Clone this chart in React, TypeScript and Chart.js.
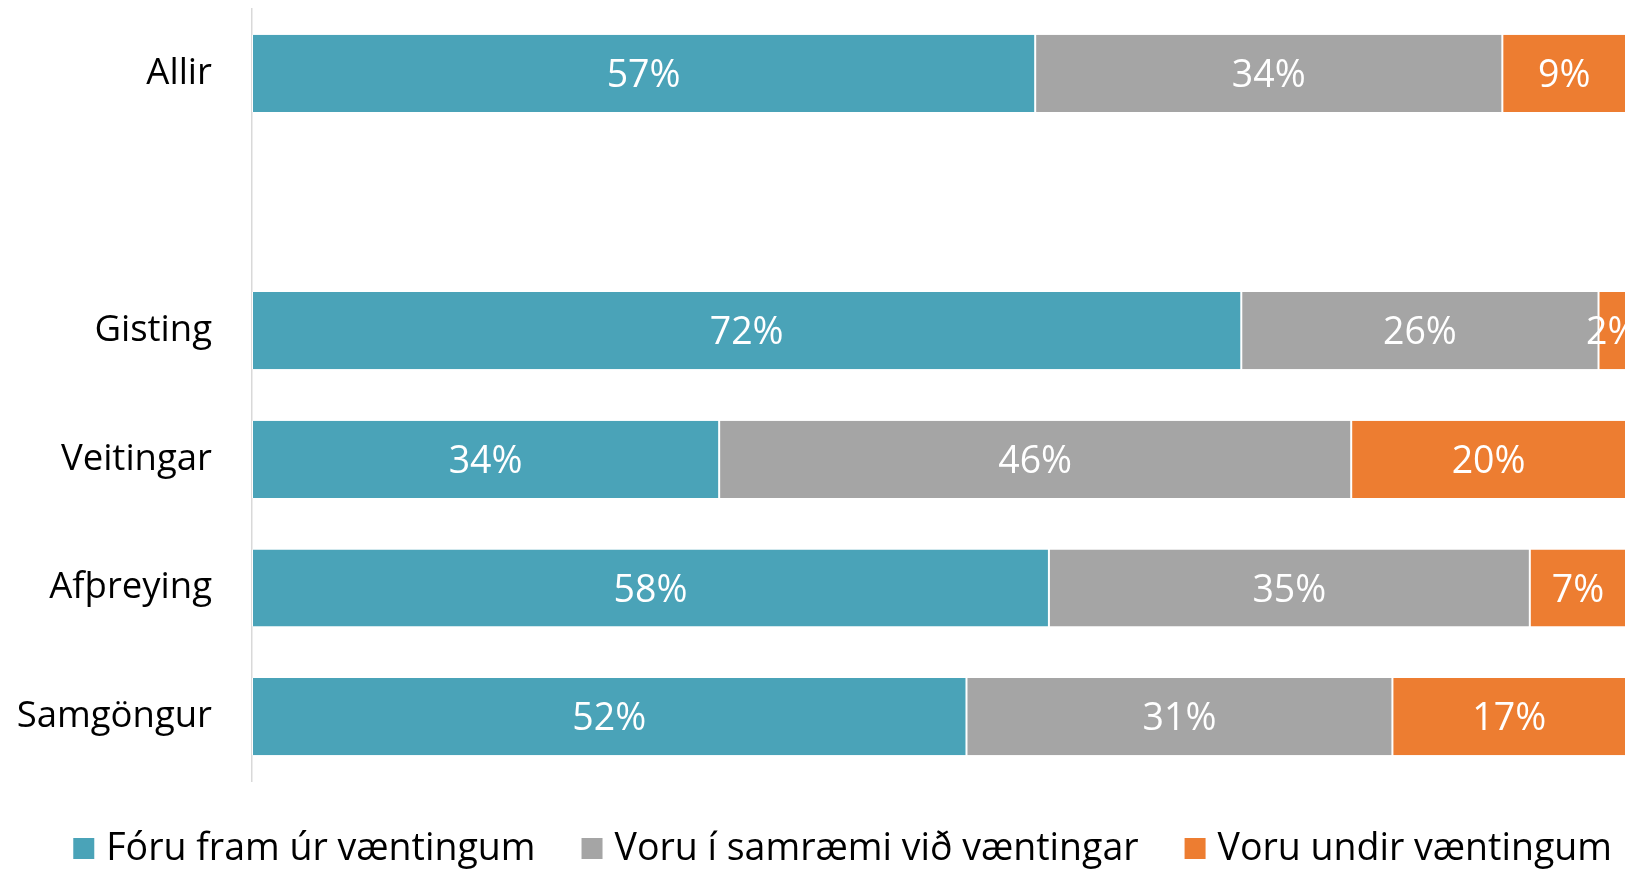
import React, { useEffect, useRef } from "react";
import { Chart, registerables } from "chart.js";

Chart.register(...registerables);

const categories = ["Allir", "", "Gisting", "Veitingar", "Afþreying", "Samgöngur"];
const seriesNames = ["Fóru fram úr væntingum", "Voru í samræmi við væntingar", "Voru undir væntingum"];
const foruFram = [57, null, 72, 34, 58, 52];
const iSamraemi = [34, null, 26, 46, 35, 31];
const undir = [9, null, 2, 20, 7, 17];
const colors = ["#4AA3B8", "#A5A5A5", "#ED7D31"];

const FONT = "'Open Sans', 'DejaVu Sans', sans-serif";

const labelPlugin = {
  id: "barLabels",
  afterDatasetsDraw(chart: any) {
    const ctx = chart.ctx;
    ctx.save();
    ctx.fillStyle = "#FFFFFF";
    ctx.font = `37.5px ${FONT}`;
    ctx.textAlign = "center";
    ctx.textBaseline = "middle";
    chart.data.datasets.forEach((ds: any, di: number) => {
      const meta = chart.getDatasetMeta(di);
      meta.data.forEach((el: any, i: number) => {
        const v = ds.data[i];
        if (v === null || v === undefined) return;
        const p = el.getCenterPoint();
        ctx.fillText(`${v}%`, p.x, p.y + 3);
      });
    });
    ctx.restore();
  },
};

// Bottom legend: square swatch, small gap, label; row right-aligned like the source.
const legendPlugin = {
  id: "bottomLegend",
  afterDraw(chart: any) {
    const ctx = chart.ctx;
    const box = 21;
    const boxGap = 12;
    const itemGap = 46;
    const rightMargin = 14;
    ctx.save();
    ctx.font = `37.5px ${FONT}`;
    ctx.textBaseline = "middle";
    ctx.textAlign = "left";
    const items = chart.data.datasets.map((ds: any) => ({
      text: ds.label,
      color: ds.backgroundColor,
      w: ctx.measureText(ds.label).width,
    }));
    const total =
      items.reduce((s: number, it: any) => s + box + boxGap + it.w, 0) + itemGap * (items.length - 1);
    let x = chart.width - rightMargin - total;
    const cy = chart.chartArea.bottom + 67.5;
    items.forEach((it: any) => {
      ctx.fillStyle = it.color;
      ctx.fillRect(x, cy - box / 2, box, box);
      x += box + boxGap;
      ctx.fillStyle = "#000000";
      ctx.fillText(it.text, x, cy + 1);
      x += it.w + itemGap;
    });
    ctx.restore();
  },
};

export default function App() {
  const ref = useRef<HTMLCanvasElement>(null);
  useEffect(() => {
    const canvas = ref.current!;
    const data = [foruFram, iSamraemi, undir];
    const chart = new Chart(canvas, {
      type: "bar",
      data: {
        labels: categories,
        datasets: seriesNames.map((name, i) => ({
          label: name,
          data: data[i] as any,
          backgroundColor: colors[i],
          borderColor: "#FFFFFF",
          borderWidth: { left: 1, right: 1, top: 0, bottom: 0 },
          borderSkipped: false,
          categoryPercentage: 1,
          barPercentage: 0.6,
        })),
      },
      options: {
        indexAxis: "y",
        animation: false,
        responsive: false,
        maintainAspectRatio: false,
        layout: { padding: { top: 9, right: 0, left: 0, bottom: 91 } },
        scales: {
          x: {
            stacked: true,
            min: 0,
            max: 100,
            display: false,
          },
          y: {
            stacked: true,
            grid: { display: false, drawTicks: false },
            border: { display: true, color: "#D9D9D9", width: 1.5 },
            ticks: {
              color: "#000000",
              padding: 40,
              font: { family: FONT, size: 36.5 },
            },
            afterFit(scale: any) {
              scale.width = 252;
              scale.paddingTop = 0;
              scale.paddingBottom = 0;
            },
          },
        },
        plugins: {
          legend: { display: false },
          tooltip: { enabled: false },
        },
      },
      plugins: [labelPlugin, legendPlugin],
    });
    return () => chart.destroy();
  }, []);
  return (
    <div style={{ position: "fixed", left: 0, top: 0, width: 1626, height: 872, background: "#fff" }}>
      <canvas ref={ref} width={1626} height={872} style={{ width: 1626, height: 872 }} />
    </div>
  );
}
